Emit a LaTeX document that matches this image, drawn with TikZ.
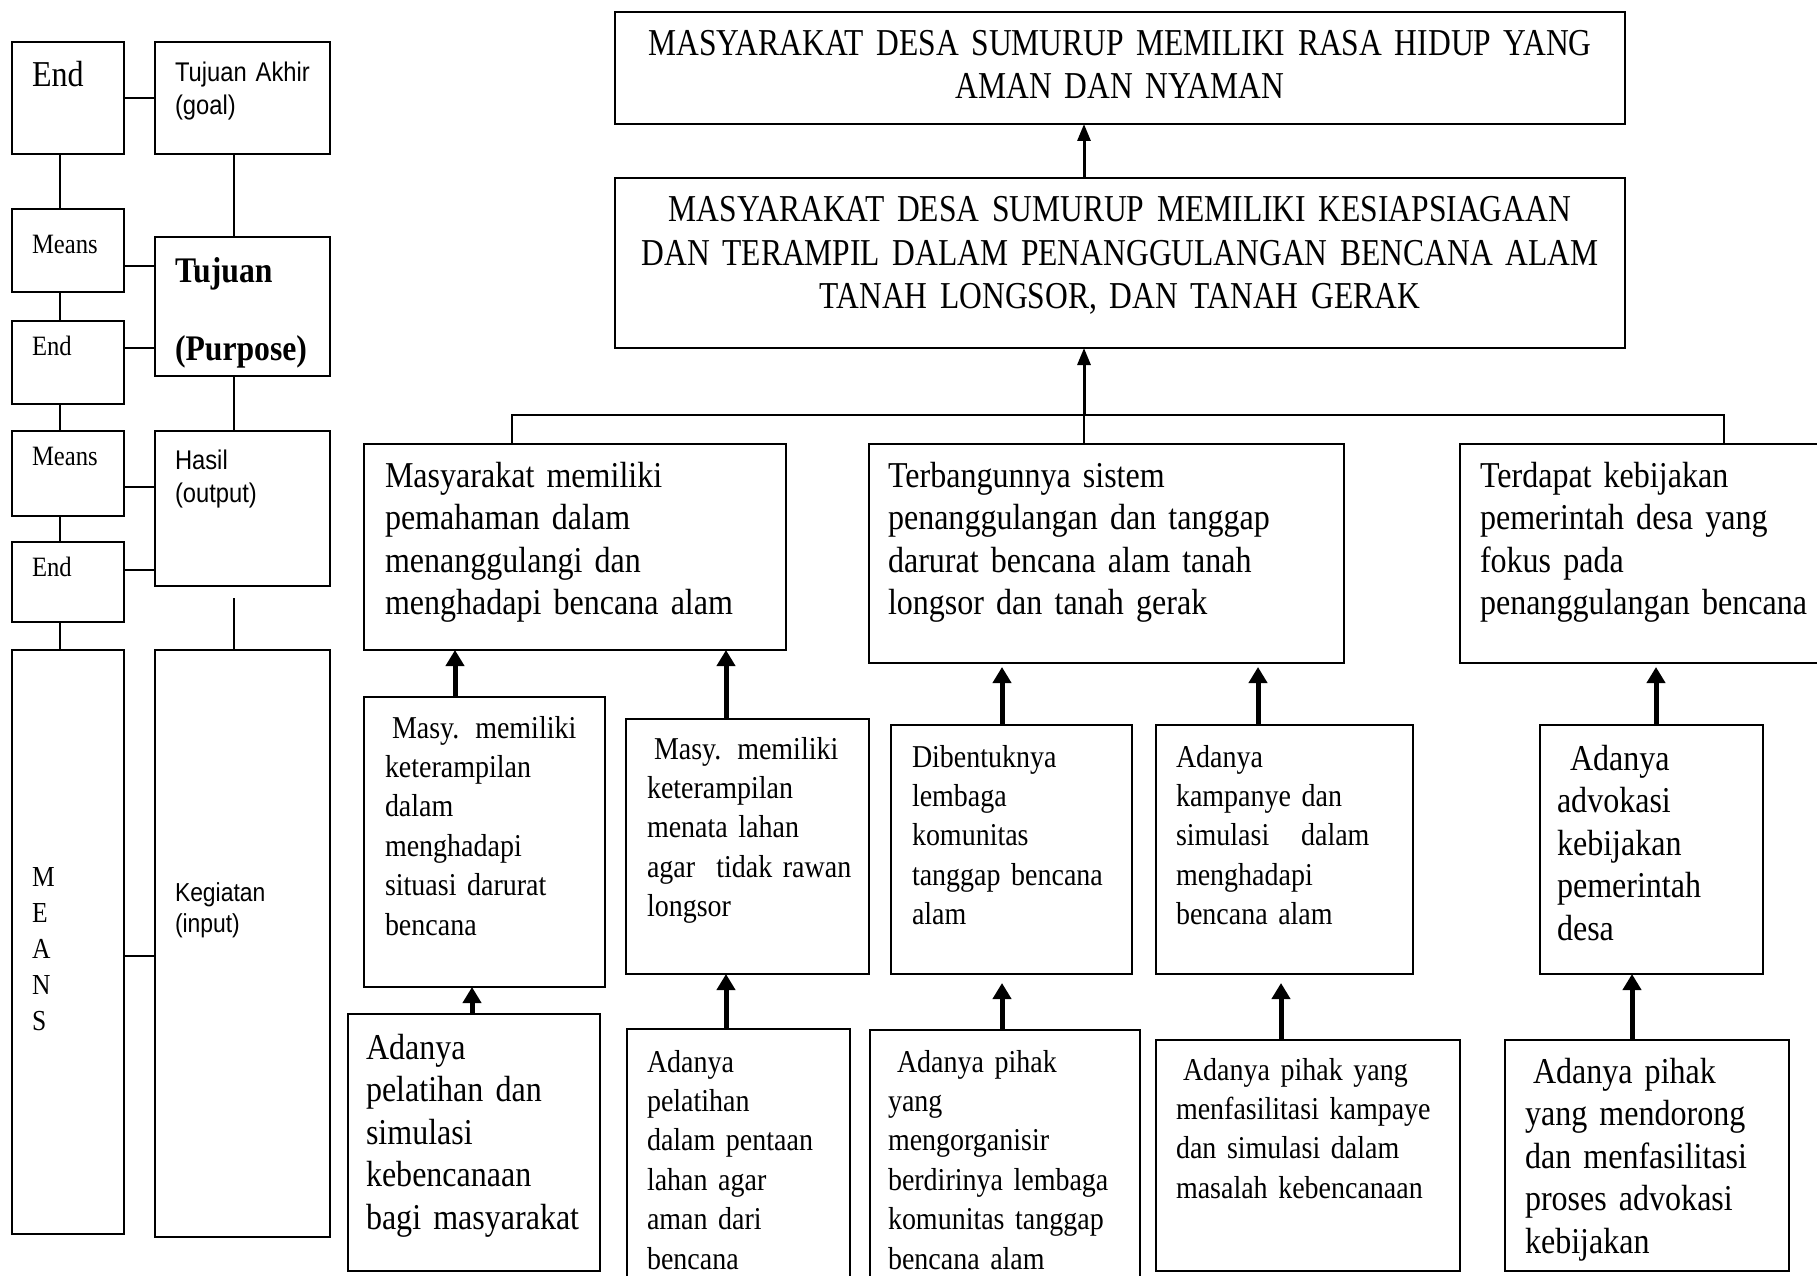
\documentclass[tikz,border=0pt]{standalone}
\usepackage{fontspec}
\setmainfont[FakeStretch=0.88]{Liberation Serif}
\newfontfamily\hurufsans[FakeStretch=0.88]{Liberation Sans}
\newfontfamily\hurufkapital[FakeStretch=0.83]{Liberation Serif}
\usetikzlibrary{arrows.meta}
\begin{document}
\begin{tikzpicture}[x=1pt,y=-1pt,
    kotak/.style={draw,line width=2.4pt,inner sep=0pt,outer sep=0pt,anchor=north west},
    teks/.style={anchor=base west,inner sep=0pt,outer sep=0pt,text width=440pt,align=left},
    besar/.style={teks,font=\fontsize{36.4}{42.5}\selectfont},
    kecil/.style={teks,font=\fontsize{31.8}{39.4}\selectfont},
    sans/.style={teks,font=\hurufsans\fontsize{27}{33}\selectfont},
    judul/.style={anchor=base,inner sep=0pt,text width=1000pt,align=center,font=\hurufkapital\fontsize{38}{43.5}\selectfont},
    garis/.style={line width=2.2pt},
    panah/.style={line width=5pt,-{Triangle[width=18pt,length=16pt]}},
    panahtipis/.style={line width=3pt,-{Triangle[width=13pt,length=17pt]}}]
\useasboundingbox (0,0) rectangle (1817,1276);
\node[kotak,minimum width=112,minimum height=112] (e1) at (12,42) {};
\node[kotak,minimum width=175,minimum height=112] (ta) at (155,42) {};
\node[kotak,minimum width=112,minimum height=83] (m1) at (12,209) {};
\node[kotak,minimum width=175,minimum height=139] (tj) at (155,237) {};
\node[kotak,minimum width=112,minimum height=83] (e2) at (12,321) {};
\node[kotak,minimum width=112,minimum height=85] (m2) at (12,431) {};
\node[kotak,minimum width=175,minimum height=155] (hs) at (155,431) {};
\node[kotak,minimum width=112,minimum height=80] (e3) at (12,542) {};
\node[kotak,minimum width=112,minimum height=584] (mn) at (12,650) {};
\node[kotak,minimum width=175,minimum height=587] (kg) at (155,650) {};
\node[teks,font=\fontsize{36.4}{40}\selectfont] (e1t) at (32,87) {End};
\node[sans] (tat) at (175,82) {Tujuan Akhir\\(goal)};
\node[teks,font=\fontsize{28}{34}\selectfont] (m1t) at (32,253) {Means};
\node[teks,font=\bfseries\fontsize{36}{78}\selectfont] (tjt) at (175,282) {Tujuan\\(Purpose)};
\node[teks,font=\fontsize{28}{34}\selectfont] (e2t) at (32,355) {End};
\node[teks,font=\fontsize{28}{34}\selectfont] (m2t) at (32,465) {Means};
\node[sans] (hst) at (175,469) {Hasil\\(output)};
\node[teks,font=\fontsize{28}{34}\selectfont] (e3t) at (32,576) {End};
\node[teks,font=\fontsize{29}{36}\selectfont] (mnt) at (32,886) {M\\E\\A\\N\\S};
\node[sans,font=\hurufsans\fontsize{26}{31}\selectfont] (kgt) at (175,901) {Kegiatan\\(input)};
\draw[garis] (e1.east) -- (e1.east -| ta.west);
\draw[garis] ([yshift=-15.5pt]m1.east) -- ([yshift=-15.5pt]m1.east -| tj.west);
\draw[garis] ([yshift=14.5pt]e2.east) -- ([yshift=14.5pt]e2.east -| tj.west);
\draw[garis] ([yshift=-13.5pt]m2.east) -- ([yshift=-13.5pt]m2.east -| hs.west);
\draw[garis] ([yshift=12pt]e3.east) -- ([yshift=12pt]e3.east -| hs.west);
\draw[garis] ([yshift=-14pt]mn.east) -- ([yshift=-14pt]mn.east -| kg.west);
\draw[garis] ([xshift=-8pt]e1.south) -- ([xshift=-8pt]m1.north);
\draw[garis] ([xshift=-8pt]m1.south) -- ([xshift=-8pt]e2.north);
\draw[garis] ([xshift=-8pt]e2.south) -- ([xshift=-8pt]m2.north);
\draw[garis] ([xshift=-8pt]m2.south) -- ([xshift=-8pt]e3.north);
\draw[garis] ([xshift=-8pt]e3.south) -- ([xshift=-8pt]mn.north);
\draw[garis] ([xshift=-8.5pt]ta.south) -- ([xshift=-8.5pt]tj.north);
\draw[garis] ([xshift=-8.5pt]tj.south) -- ([xshift=-8.5pt]hs.north);
\coordinate (putus) at (234,598);
\draw[garis] (putus) -- (putus |- kg.north);
\node[kotak,minimum width=1010,minimum height=112] (atas) at (615,12) {};
\node[kotak,minimum width=1010,minimum height=170] (tengah) at (615,178) {};
\node[judul] (atast) at (1120,55.5) {MASYARAKAT DESA SUMURUP MEMILIKI RASA HIDUP YANG\\AMAN DAN NYAMAN};
\node[judul] (tengaht) at (1120,222) {MASYARAKAT DESA SUMURUP MEMILIKI KESIAPSIAGAAN\\DAN TERAMPIL DALAM PENANGGULANGAN BENCANA ALAM\\TANAH LONGSOR, DAN TANAH GERAK};
\node[kotak,minimum width=422,minimum height=206] (a1) at (364,444) {};
\node[kotak,minimum width=475,minimum height=219] (a2) at (869,444) {};
\node[kotak,minimum width=390,minimum height=219] (a3) at (1460,444) {};
\node[kotak,minimum width=241,minimum height=290] (b1) at (364,697) {};
\node[kotak,minimum width=243,minimum height=255] (b2) at (626,719) {};
\node[kotak,minimum width=241,minimum height=249] (b3) at (891,725) {};
\node[kotak,minimum width=257,minimum height=249] (b4) at (1156,725) {};
\node[kotak,minimum width=223,minimum height=249] (b5) at (1540,725) {};
\node[kotak,minimum width=252,minimum height=257] (c1) at (348,1014) {};
\node[kotak,minimum width=223,minimum height=280] (c2) at (627,1029) {};
\node[kotak,minimum width=270,minimum height=280] (c3) at (870,1030) {};
\node[kotak,minimum width=304,minimum height=231] (c4) at (1156,1040) {};
\node[kotak,minimum width=284,minimum height=231] (c5) at (1505,1040) {};
\node[besar] (a1t) at (385,487) {Masyarakat memiliki\\pemahaman dalam\\menanggulangi dan\\menghadapi bencana alam};
\node[besar] (a2t) at (888,487) {Terbangunnya sistem\\penanggulangan dan tanggap\\darurat bencana alam tanah\\longsor dan tanah gerak};
\node[besar] (a3t) at (1480,487) {Terdapat kebijakan\\pemerintah desa yang\\fokus pada\\penanggulangan bencana};
\node[kecil] (b1t) at (385,738) {\hspace*{7pt}Masy. memiliki\\keterampilan\\dalam\\menghadapi\\situasi darurat\\bencana};
\node[kecil] (b2t) at (647,759) {\hspace*{7pt}Masy. memiliki\\keterampilan\\menata lahan\\agar\ \ tidak rawan\\longsor};
\node[kecil] (b3t) at (912,767) {Dibentuknya\\lembaga\\komunitas\\tanggap bencana\\alam};
\node[kecil] (b4t) at (1176,767) {Adanya\\kampanye dan\\simulasi\ \ \ dalam\\menghadapi\\bencana alam};
\node[besar] (b5t) at (1557,770) {\hspace*{13pt}Adanya\\advokasi\\kebijakan\\pemerintah\\desa};
\node[besar] (c1t) at (366,1059) {Adanya\\pelatihan dan\\simulasi\\kebencanaan\\bagi masyarakat};
\node[kecil] (c2t) at (647,1072) {Adanya\\pelatihan\\dalam pentaan\\lahan agar\\aman dari\\bencana};
\node[kecil] (c3t) at (888,1072) {\hspace*{9pt}Adanya pihak\\yang\\mengorganisir\\berdirinya lembaga\\komunitas tanggap\\bencana alam};
\node[kecil] (c4t) at (1176,1080) {\hspace*{7pt}Adanya pihak yang\\menfasilitasi kampaye\\dan simulasi dalam\\masalah kebencanaan};
\node[besar] (c5t) at (1525,1083) {\hspace*{8pt}Adanya pihak\\yang mendorong\\dan menfasilitasi\\proses advokasi\\kebijakan};
\coordinate (bus) at (1084,415);
\draw[garis] ([xshift=-63pt]a1.north) |- (bus) -| ([xshift=69pt]a3.north);
\draw[garis] (a2.north -| bus) -- (bus);
\draw[panahtipis] (bus) -- (tengah.south -| bus);
\draw[panahtipis] (tengah.north -| bus) -- (atas.south -| bus);
\draw[panah] ([xshift=-29.5pt]b1.north) -- ([xshift=-29.5pt]b1.north |- a1.south);
\draw[panah] ([xshift=-21.5pt]b2.north) -- ([xshift=-21.5pt]b2.north |- a1.south);
\draw[panah] ([xshift=-2pt]c1.north) -- ([xshift=-2pt]c1.north |- b1.south);
\draw[panah] ([xshift=-12.5pt]c2.north) -- ([xshift=-12.5pt]c2.north |- b2.south);
\draw[panah,shorten >=4pt] ([xshift=-9.5pt]b3.north) -- ([xshift=-9.5pt]b3.north |- a2.south);
\draw[panah,shorten >=4pt] ([xshift=-26.5pt]b4.north) -- ([xshift=-26.5pt]b4.north |- a2.south);
\draw[panah,shorten >=9pt] ([xshift=-3pt]c3.north) -- ([xshift=-3pt]c3.north |- b3.south);
\draw[panah,shorten >=9pt] ([xshift=-27pt]c4.north) -- ([xshift=-27pt]c4.north |- b4.south);
\draw[panah,shorten >=4pt] ([xshift=4.5pt]b5.north) -- ([xshift=4.5pt]b5.north |- a3.south);
\draw[panah] ([xshift=-15pt]c5.north) -- ([xshift=-15pt]c5.north |- b5.south);
\end{tikzpicture}
\end{document}
